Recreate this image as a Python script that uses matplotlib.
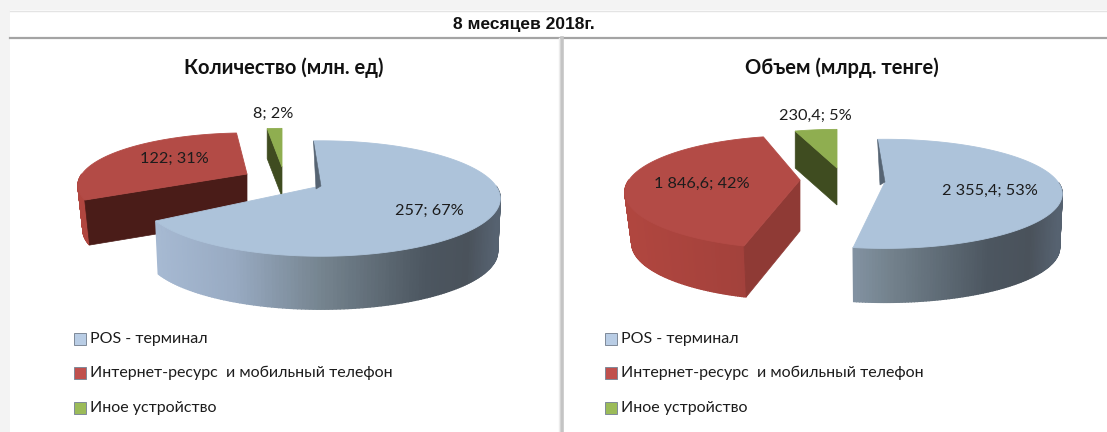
import numpy as np
import matplotlib
matplotlib.use("Agg")
import matplotlib.pyplot as plt
from matplotlib.colors import LinearSegmentedColormap
from matplotlib.patches import Polygon, Rectangle

# ---- data ----
categories = ["POS - терминал", "Интернет-ресурс  и мобильный телефон", "Иное устройство"]
count_values = [257, 122, 8]
count_labels = ["257; 67%", "122; 31%", "8; 2%"]
volume_values = [2355.4, 1846.6, 230.4]
volume_labels = ["2 355,4; 53%", "1 846,6; 42%", "230,4; 5%"]
main_title = "8 месяцев 2018г."
chart_titles = ["Количество (млн. ед)", "Объем (млрд. тенге)"]

# ---- style ----
plt.rcParams["font.family"] = ["Lato", "Open Sans", "DejaVu Sans"]
TOP = ["#adc3da", "#b34b46", "#8fae50"]
K = 0.217
blue_wall = LinearSegmentedColormap.from_list(
    "b", [(0, "#a8bbd4"), (0.25, "#98aac2"), (0.5, "#75848f"), (0.8, "#4c5660"), (0.92, "#4a525b"), (1, "#566270")])
red_wall = LinearSegmentedColormap.from_list("r", ["#b0463f", "#9c3f3a", "#86322e"])
green_wall = LinearSegmentedColormap.from_list("g", ["#3f4c20", "#3f4c20"])
WALLS = [blue_wall, red_wall, green_wall]

# per-slice placement: apex x, y, radius a, b, depth, rotation, depth shrink, cut-face colour
LEFT_GEOM = [
    dict(ax=321, ay=186, a=175, b=55, d=53, rot=-3, s=0.985, cut=None),
    dict(ax=247, ay=174, a=165, b=50, d=45, rot=3, s=0.97, cut="#4a1c18"),
    dict(ax=282, ay=167, a=139, b=47, d=30, rot=0, s=1.0, cut="#3f4c20"),
]
RIGHT_GEOM = [
    dict(ax=885, ay=182, a=173, b=52, d=54, rot=-3, s=0.985, cut=None),
    dict(ax=800, ay=180, a=171, b=54, d=51, rot=3.7, s=0.96, cut="#8f3a35"),
    dict(ax=837, ay=168, a=157, b=47, d=37, rot=0, s=1.0, cut="#3f4c20"),
]
LEFT_LABEL_POS = [(429, 211), (174, 159), (273, 114)]
RIGHT_LABEL_POS = [(990, 191), (702, 184), (815, 116)]

fig = plt.figure(figsize=(11.07, 4.32), dpi=100)
canvas = fig.add_axes([0, 0, 1, 1])
canvas.set_xlim(0, 1107)
canvas.set_ylim(432, 0)
canvas.axis("off")


def project(g, theta):
    t = np.radians(theta)
    u, v = np.sin(t), np.cos(t)
    w = 1 + K * v
    return g["ax"] + g["a"] * u / w, g["ay"] - g["b"] * v / w


def lower(g, x, y):
    return g["ax"] + (x - g["ax"]) * g["s"], y + g["d"]


def draw_slice(g, start, end, top, cmap, z):
    th = np.linspace(start, end, 240)
    xs, ys = project(g, th)
    # outer wall, facing the viewer
    for i in range(len(th) - 1):
        if 90 <= th[i] <= 270:
            x0, y0 = lower(g, xs[i], ys[i])
            x1, y1 = lower(g, xs[i + 1], ys[i + 1])
            f = ((xs[i] + xs[i + 1]) / 2 - (g["ax"] - g["a"])) / (2 * g["a"])
            c = cmap(float(np.clip(f, 0, 1)))
            canvas.add_patch(Polygon([(xs[i], ys[i]), (xs[i + 1], ys[i + 1]), (x1, y1), (x0, y0)],
                                     closed=True, fc=c, ec=c, lw=1.0, zorder=z))
    apex = (g["ax"], g["ay"])
    # cut face along the starting edge
    if g["cut"]:
        x0, y0 = lower(g, xs[0], ys[0])
        x1, y1 = lower(g, apex[0], apex[1])
        canvas.add_patch(Polygon([(xs[0], ys[0]), apex, (x1, y1), (x0, y0)], closed=True,
                                 fc=g["cut"], ec=g["cut"], lw=0.5, zorder=z + 0.1))
    canvas.add_patch(Polygon(list(zip(xs, ys)) + [apex], closed=True, fc=top,
                             ec=top, lw=0.6, zorder=z + 0.2))


def draw_pie(values, labels, geom, label_pos):
    fracs = np.array(values, dtype=float) / sum(values) * 360
    edges = np.concatenate([[0], np.cumsum(fracs)])
    for idx in [2, 1, 0]:
        g = geom[idx]
        s, e = edges[idx] + g["rot"], edges[idx + 1] + g["rot"]
        draw_slice(g, s, e, TOP[idx], WALLS[idx], 3 - idx + 2)
        if idx == 0:
            # dark sliver of the inner face at the start of the POS slice
            fx, fy = project(g, s)
            canvas.add_patch(Polygon([(fx, fy), (g["ax"], g["ay"]), (g["ax"] - 5, g["ay"] + 3)],
                                     closed=True, fc="#566473", ec="#566473", lw=0.4, zorder=7))
    for (x, y), t in zip(label_pos, labels):
        canvas.text(x, y, t, ha="center", va="center", fontsize=11.7, color="#1c1c1c", zorder=10)


# frame
canvas.add_patch(Rectangle((0, 0), 1107, 10, fc="#f3f3f3", ec="none", zorder=0))
canvas.add_patch(Rectangle((0, 0), 10, 432, fc="#f3f3f3", ec="none", zorder=0))
canvas.plot([10, 1107], [37.5, 37.5], color="#a4a4a4", lw=1.6, zorder=1)
canvas.plot([10, 1107], [10.5, 10.5], color="#e4e4e4", lw=1, zorder=1)
canvas.plot([562, 562], [38, 432], color="#c4c4c4", lw=2.6, zorder=1)
canvas.plot([558.5, 558.5], [38, 432], color="#ececec", lw=1, zorder=1)
canvas.text(524, 25, main_title, ha="center", va="center", fontsize=12.5, fontweight="bold",
            family=["Liberation Sans"], color="#111111")

draw_pie(count_values, count_labels, LEFT_GEOM, LEFT_LABEL_POS)
draw_pie(volume_values, volume_labels, RIGHT_GEOM, RIGHT_LABEL_POS)

for x, t in zip([284, 842], chart_titles):
    canvas.text(x, 68, t, ha="center", va="center", fontsize=14.5, fontweight="bold", color="#111111")

for x0 in [74, 605]:
    for y, name, col in zip([339, 373, 408], categories, ["#b9cde5", "#c0504d", "#9bbb59"]):
        canvas.add_patch(Rectangle((x0, y - 6), 12, 12, fc=col, ec="#7f8a99", lw=0.7, zorder=4))
        canvas.text(x0 + 16, y, name, ha="left", va="center", fontsize=11.5, color="#1c1c1c")

fig.savefig("out.png", dpi=100, facecolor="white")
